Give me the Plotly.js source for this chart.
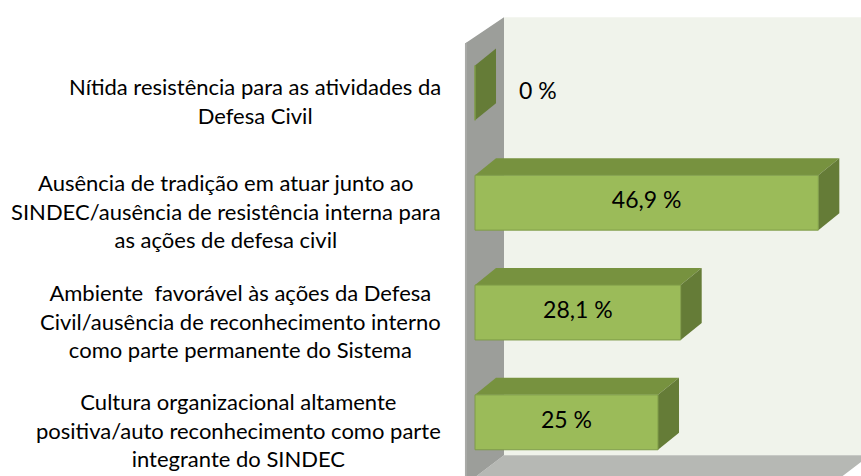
<!DOCTYPE html>
<html>
<head>
<meta charset="utf-8">
<script src="https://cdn.plot.ly/plotly-3.0.1.min.js"></script>
<style>html,body{margin:0;padding:0;background:#fff;}#chart{width:861px;height:476px;}</style>
</head>
<body>
<div id="chart"></div>
<script>
// ---- data (top to bottom) ----
const categories = [
  "Nítida resistência para as atividades da<br>Defesa Civil",
  "Ausência de tradição em atuar junto ao<br>SINDEC/ausência de resistência interna para<br>as ações de defesa civil",
  "Ambiente  favorável às ações da Defesa<br>Civil/ausência de reconhecimento interno<br>como parte permanente do Sistema",
  "Cultura organizacional altamente<br>positiva/auto reconhecimento como parte<br>integrante do SINDEC"
];
const values = [0, 46.9, 28.1, 25];
const valueLabels = ["0 %", "46,9 %", "28,1 %", "25 %"];
const positions = [3, 2, 1, 0];

// ---- style / geometry ----
const FONT = "Lato, 'Liberation Sans', sans-serif";
const half = 0.25;          // half bar thickness (y units)
const bdx = 2.87, bdy = 0.155;   // bar depth offset
const wdx = 3.96, wdy = 0.2;     // wall depth offset
const xMax = 50;

const shapes = [];
function poly(pts, fill, line) {
  const d = "M " + pts.map(p => p[0] + "," + p[1]).join(" L ") + " Z";
  shapes.push({type: "path", xref: "x", yref: "y", path: d, fillcolor: fill,
    line: line ? {color: line, width: 1} : {width: 0}, layer: "below"});
}
// back wall
poly([[wdx, -0.5 + wdy], [wdx, 3.5 + wdy - 0.01], [xMax + wdx + 5, 3.5 + wdy - 0.01], [xMax + wdx + 5, -0.5 + wdy]], "#F0F3EB");
// floor
poly([[-1.37, -0.7], [0, -0.5], [wdx, -0.5 + wdy], [xMax + wdx, -0.5 + wdy], [xMax, -0.5], [xMax, -0.7]], "#B6B8B4");
// side wall
poly([[-1.37, -0.7], [-1.37, 3.45], [wdx, 3.5 + wdy - 0.01], [wdx, -0.5 + wdy], [0, -0.5], [0, -0.7]], "#9C9E9A");
poly([[-1.37, -0.7], [-1.37, 3.45], [-1.1, 3.46], [-1.1, -0.7]], "#A9AAA7");

// 3D bar faces
values.forEach((v, i) => {
  const y = positions[i];
  if (v > 0) poly([[0, y + half], [v, y + half], [v + bdx, y + half + bdy], [bdx, y + half + bdy]], "#77923F");
  poly([[v, y - half], [v, y + half], [v + bdx, y + half + bdy], [v + bdx, y - half + bdy]], "#657C37");
});

const bars = {
  type: "bar", orientation: "h",
  x: values, y: positions, width: 2 * half,
  marker: {color: "#9BBB59", line: {color: "#7E9B48", width: 1}},
  hoverinfo: "skip"
};
const labels = {
  type: "scatter", mode: "text",
  x: values.map(v => v > 0 ? v / 2 : v + 8.6),
  y: positions,
  text: valueLabels,
  textposition: "middle center",
  textfont: {family: FONT, size: 23, color: "#000"},
  hoverinfo: "skip", cliponaxis: false
};

const annotations = categories.map((c, i) => ({
  xref: "paper", yref: "y", x: -0.0503, y: positions[i],
  xanchor: "right", yanchor: "middle", align: "center", yshift: -8,
  text: c, showarrow: false,
  font: {family: FONT, size: 22, color: "#000"}
}));

const layout = {
  width: 861, height: 476,
  margin: {l: 463, r: 0, t: 10, b: 0},
  paper_bgcolor: "#fff", plot_bgcolor: "#fff",
  showlegend: false,
  xaxis: {range: [-1.64, 52.73], visible: false, fixedrange: true},
  yaxis: {range: [-0.489, 3.755], visible: false, fixedrange: true},
  shapes: shapes,
  annotations: annotations
};

Plotly.newPlot("chart", [bars, labels], layout, {displayModeBar: false, staticPlot: true});
</script>
</body>
</html>
